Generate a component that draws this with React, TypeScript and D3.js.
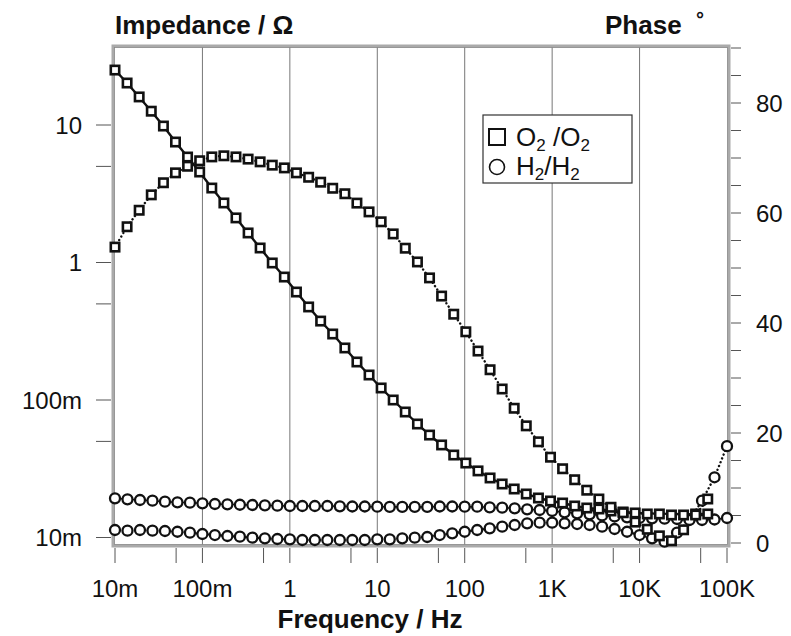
import React from "react";
import * as d3 from "d3";

const FREQ_O2 = [0.01, 0.01375, 0.0189, 0.026, 0.0358, 0.0492, 0.0676, 0.093, 0.128, 0.176,
  0.242, 0.333, 0.457, 0.629, 0.865, 1.19, 1.64, 2.25, 3.09, 4.26,
  5.85, 8.05, 11.07, 15.2, 20.9, 28.8, 39.6, 54.4, 74.9, 103,
  142, 195, 268, 368, 506, 697, 958, 1317, 1811, 2490,
  3425, 4711, 6478, 8910, 12250, 16850, 23170, 31870, 43830, 60260];

const IMP_O2 = [25.1, 20.2, 16.0, 12.6, 9.83, 7.52, 5.85, 4.55, 3.48, 2.71,
  2.11, 1.64, 1.275, 0.992, 0.784, 0.61, 0.475, 0.375, 0.302, 0.239,
  0.189, 0.152, 0.1223, 0.1, 0.0818, 0.0669, 0.0556, 0.0471, 0.0398, 0.0348,
  0.0305, 0.0271, 0.0245, 0.02253, 0.02072, 0.01938, 0.01843, 0.01782, 0.01695, 0.01639,
  0.01612, 0.01559, 0.01533, 0.01508, 0.01483, 0.01483, 0.01458, 0.01458, 0.01483, 0.01483];

const PHASE_O2 = [53.8, 57.5, 60.5, 63.3, 65.5, 67.3, 68.5, 69.5, 70.2, 70.4,
  70.2, 69.8, 69.3, 68.7, 68.2, 67.3, 66.5, 65.6, 64.5, 63.5,
  61.8, 60.2, 58.4, 56.2, 53.6, 51.1, 48.2, 44.9, 41.6, 38.4,
  34.9, 31.5, 28.0, 24.5, 21.3, 18.4, 15.6, 13.5, 11.5, 9.6,
  8.0, 6.5, 5.5, 3.8, 2.5, 1.3, 0.4, 2.4, 5.1, 8.0];

const FREQ_H2 = [0.01, 0.01389, 0.01931, 0.02683, 0.03728, 0.05179, 0.07197,
  0.1, 0.1389, 0.1931, 0.2683, 0.3728, 0.5179, 0.7197,
  1, 1.389, 1.931, 2.683, 3.728, 5.179, 7.197,
  10, 13.89, 19.31, 26.83, 37.28, 51.79, 71.97,
  100, 138.9, 193.1, 268.3, 372.8, 517.9, 719.7,
  1000, 1389, 1931, 2683, 3728, 5179, 7197,
  10000, 13895, 19307, 26827, 37276, 51795, 71969,
  100000];

const IMP_H2 = [0.01928, 0.01896, 0.01874, 0.01852, 0.01821, 0.01803, 0.01791, 0.01773, 0.01752, 0.01743,
  0.01731, 0.01723, 0.01714, 0.01703, 0.01694, 0.01694, 0.01694, 0.01694, 0.01686, 0.0168,
  0.0168, 0.01675, 0.01672, 0.0167, 0.0167, 0.0167, 0.0168, 0.0168, 0.01675, 0.01675,
  0.01658, 0.01647, 0.01631, 0.01603, 0.01585, 0.01559, 0.01525, 0.015, 0.01475, 0.01445,
  0.01421, 0.01402, 0.01386, 0.01379, 0.0137, 0.01363, 0.01352, 0.0134, 0.01352, 0.01386];

const PHASE_H2 = [2.36, 2.24, 2.36, 2.24, 2.18, 2.05, 1.87, 1.64, 1.45, 1.27,
  1.15, 0.96, 0.85, 0.73, 0.67, 0.55, 0.55, 0.55, 0.55, 0.55,
  0.55, 0.67, 0.67, 0.85, 0.96, 1.09, 1.45, 1.76, 2.05, 2.36,
  2.67, 2.96, 3.27, 3.58, 3.69, 3.69, 3.58, 3.45, 3.27, 2.96,
  2.55, 2.05, 1.45, 0.85, 0.24, 1.87, 4.18, 7.69, 11.95, 17.6];

const X_TICK_LABELS = ["10m", "100m", "1", "10", "100", "1K", "10K", "100K"];
const X_TICK_VALUES = [0.01, 0.1, 1, 10, 100, 1000, 10000, 100000];
const Y_LEFT_LABELS = ["10m", "100m", "1", "10"];
const Y_LEFT_VALUES = [0.01, 0.1, 1, 10];
const Y_RIGHT_VALUES = [0, 20, 40, 60, 80];

const W = 791;
const H = 636;
const PL = 113, PR = 729, PT = 46, PB = 546;

export default function App() {
  const x = d3.scaleLog().domain([0.01, 1e5]).range([115, 727]);
  const yL = d3.scaleLog().domain([0.01, 10]).range([537.5, 125]);
  const yR = d3.scaleLinear().domain([0, 90]).range([543, 48]);

  const minorX: number[] = [];
  X_TICK_VALUES.forEach((v) => {
    minorX.push(v);
    if (v < 1e5) minorX.push(v * 5);
  });
  const minorYL: number[] = [];
  Y_LEFT_VALUES.forEach((v) => {
    minorYL.push(v);
    if (v * 5 <= 20) minorYL.push(v * 5);
  });
  const minorYR = d3.range(0, 91, 5);

  const lineImp = (f: number[], z: number[]) =>
    d3.line<number>().x((_, i) => x(f[i])).y((d) => yL(d))(z) || "";
  const linePh = (f: number[], p: number[]) =>
    d3.line<number>().x((_, i) => x(f[i])).y((d) => yR(d))(p) || "";

  const font = "'Liberation Sans', Arial, Helvetica, sans-serif";

  const squares = (f: number[], vals: number[], sc: (v: number) => number, key: string) =>
    vals.map((v, i) => (
      <rect key={key + i} x={x(f[i]) - 4.2} y={sc(v) - 4.2} width={8.4} height={8.4}
        fill="#fff" stroke="#111" strokeWidth={2.6} />
    ));
  const circles = (f: number[], vals: number[], sc: (v: number) => number, key: string) =>
    vals.map((v, i) => (
      <circle key={key + i} cx={x(f[i])} cy={sc(v)} r={5}
        fill="#fff" stroke="#111" strokeWidth={2.3} />
    ));

  return (
    <svg width={W} height={H} style={{ position: "absolute", left: 0, top: 0, background: "#fff" }}
      fontFamily={font}>
      <rect x={0} y={0} width={W} height={H} fill="#fff" />
      {/* titles */}
      <text x={115} y={34} fontSize={26} fontWeight="bold" fill="#111">Impedance / Ω</text>
      <text x={605} y={34} fontSize={26} fontWeight="bold" fill="#111">Phase</text>
      <text x={696} y={26} fontSize={20} fontWeight="bold" fill="#111">°</text>
      <text x={370} y={628} fontSize={26} fontWeight="bold" fill="#111" textAnchor="middle">Frequency / Hz</text>

      {/* vertical grid */}
      {X_TICK_VALUES.slice(1, -1).map((v) => (
        <line key={"g" + v} x1={x(v)} x2={x(v)} y1={PT} y2={PB} stroke="#777" strokeWidth={1} />
      ))}

      {/* frame */}
      <rect x={PL} y={PT} width={PR - PL} height={PB - PT} fill="none" stroke="#aaa" strokeWidth={3} />
      <rect x={PL + 1.5} y={PT + 1.5} width={PR - PL - 3} height={PB - PT - 3} fill="none" stroke="#888" strokeWidth={0.8} />

      {/* bottom ticks */}
      {minorX.map((v) => (
        <line key={"bx" + v} x1={x(v)} x2={x(v)} y1={548} y2={563} stroke="#555" strokeWidth={1} />
      ))}
      {X_TICK_VALUES.map((v, i) => (
        <text key={"xl" + v} x={x(v)} y={597} fontSize={24} textAnchor="middle" fill="#111">{X_TICK_LABELS[i]}</text>
      ))}

      {/* left ticks */}
      {minorYL.map((v) => (
        <line key={"ly" + v} x1={96} x2={111} y1={yL(v)} y2={yL(v)} stroke="#555" strokeWidth={1} />
      ))}
      {Y_LEFT_VALUES.map((v, i) => (
        <text key={"yl" + v} x={82} y={yL(v) + 8.5} fontSize={24} textAnchor="end" fill="#111">{Y_LEFT_LABELS[i]}</text>
      ))}

      {/* right ticks */}
      {minorYR.map((v) => (
        <line key={"ry" + v} x1={731} x2={741} y1={yR(v)} y2={yR(v)} stroke="#555" strokeWidth={1} />
      ))}
      {Y_RIGHT_VALUES.map((v) => (
        <text key={"yr" + v} x={756} y={yR(v) + 8.5} fontSize={24} fill="#111">{v}</text>
      ))}

      {/* lines */}
      <path d={lineImp(FREQ_O2, IMP_O2)} fill="none" stroke="#111" strokeWidth={2.4} />
      <path d={lineImp(FREQ_H2, IMP_H2)} fill="none" stroke="#111" strokeWidth={1.6} />
      <path d={linePh(FREQ_O2, PHASE_O2)} fill="none" stroke="#111" strokeWidth={2.4}
        strokeDasharray="0.1 4" strokeLinecap="round" />
      <path d={linePh(FREQ_H2, PHASE_H2)} fill="none" stroke="#111" strokeWidth={2.4}
        strokeDasharray="0.1 4" strokeLinecap="round" />

      {/* markers */}
      {circles(FREQ_H2, IMP_H2, yL, "ci")}
      {circles(FREQ_H2, PHASE_H2, yR, "cp")}
      {squares(FREQ_O2, IMP_O2, yL, "si")}
      {squares(FREQ_O2, PHASE_O2, yR, "sp")}

      {/* legend */}
      <rect x={483} y={115} width={149} height={68} fill="#fff" stroke="#333" strokeWidth={1.2} />
      <rect x={489} y={129} width={16} height={16} fill="#fff" stroke="#111" strokeWidth={2} />
      <circle cx={497} cy={167} r={7.5} fill="#fff" stroke="#111" strokeWidth={1.6} />
      <text x={516} y={146} fontSize={26} fill="#111">
        O<tspan fontSize={17} dy={5}>2</tspan><tspan dy={-5}> /O</tspan><tspan fontSize={17} dy={5}>2</tspan>
      </text>
      <text x={516} y={175} fontSize={26} fill="#111">
        H<tspan fontSize={17} dy={5}>2</tspan><tspan dy={-5}>/H</tspan><tspan fontSize={17} dy={5}>2</tspan>
      </text>
    </svg>
  );
}
